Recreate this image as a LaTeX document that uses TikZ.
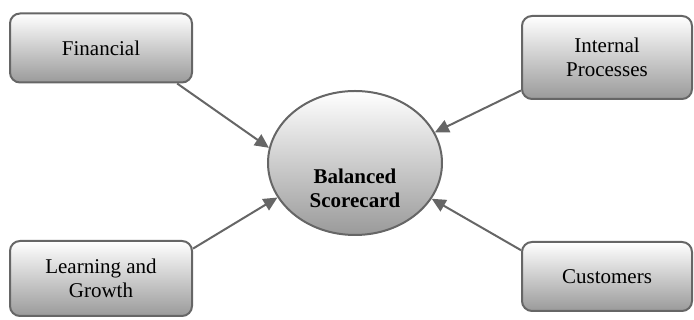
\documentclass[tikz,border=0pt]{standalone}
\usepackage{fontspec}
\setmainfont{Liberation Serif}
\usetikzlibrary{arrows.meta,positioning,calc}
\usetikzlibrary{shapes.geometric}
\definecolor{edgegray}{HTML}{666666}
\definecolor{fillgray}{HTML}{9A9A9A}

\begin{document}
\begin{tikzpicture}[x=1pt,y=1pt,
box/.style={rectangle,rounded corners=10pt,draw=edgegray,line width=2pt,
  top color=white,bottom color=fillgray,align=center,
  font=\fontsize{21}{24}\selectfont,inner sep=0pt},
hub/.style={ellipse,draw=edgegray,line width=2pt,top color=white,
  bottom color=fillgray,minimum width=174pt,minimum height=144pt,inner sep=0pt},
link/.style={draw=edgegray,line width=2pt,-{Triangle[length=14pt,width=13pt]}}]
\useasboundingbox (0,0) rectangle (694,320);
\node[box,minimum width=182pt,minimum height=69pt] (fin) at (101,272) {Financial};
\node[box,minimum width=170pt,minimum height=83pt] (ip) at (607,262.5) {Internal\\Processes};
\node[box,minimum width=182pt,minimum height=75pt] (lg) at (101,41.5) {Learning and\\Growth};
\node[box,minimum width=170pt,minimum height=69pt] (cu) at (607,43.5) {Customers};
\node[hub] (bsc) at (355,157) {};
\node[align=center,font=\fontsize{21}{24}\selectfont\bfseries] (bsctext) at (355,131.5) {Balanced\\Scorecard};
\draw[link] (fin.-25)--(bsc.170);
\draw[link] (ip.201)--(bsc.21);
\draw[link] (lg.18)--(bsc.204);
\draw[link] (cu.163)--(bsc.335);
\end{tikzpicture}
\end{document}
